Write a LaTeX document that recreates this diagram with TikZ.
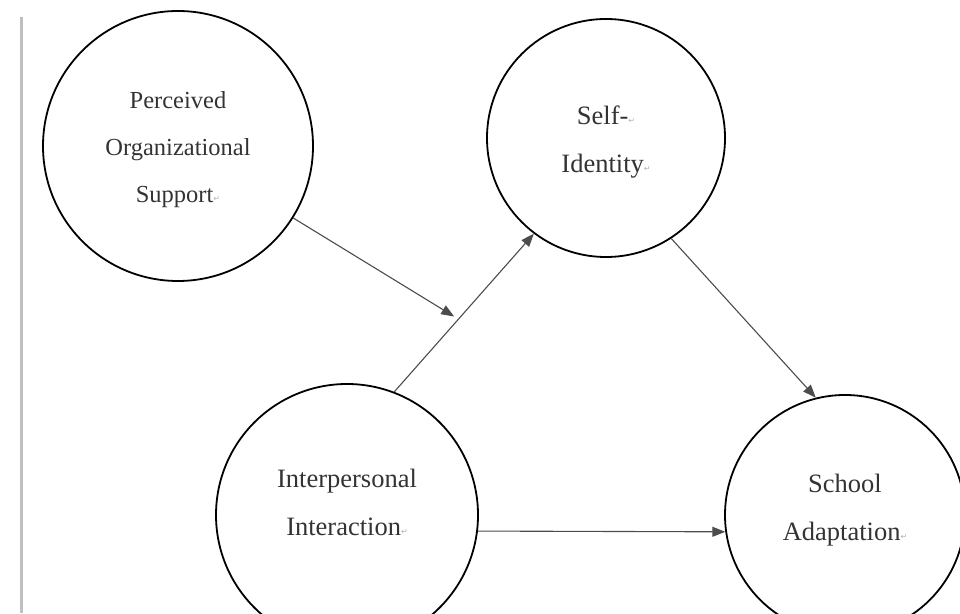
\documentclass[tikz,border=0pt]{standalone}
\usepackage{fontspec}
\setmainfont{Liberation Serif}
\newfontfamily\symfont{DejaVu Sans}
\usepackage{tikz}
\usetikzlibrary{arrows.meta,positioning}
\usepackage{xcolor}

\newcommand{\pmark}{{\symfont\fontsize{8}{8}\selectfont\color{black!30}\raisebox{1pt}{↵}}}

\begin{document}
\begin{tikzpicture}[x=1pt,y=1pt,->,>={Triangle[length=13pt,width=10pt]},
                    on grid,semithick]
  \tikzstyle{construct}=[circle,draw=black,line width=1.8pt,inner sep=0pt,
                         align=center,text=black!80,
                         font=\fontsize{26.5}{48}\selectfont]
  \tikzstyle{link}=[draw=black!70,line width=1.1pt]

  \useasboundingbox (0,0) rectangle (960,613);
  \draw[-,black!25,line width=3pt] (21,0) -- (21,596);

  \node[construct,minimum size=270pt,font=\fontsize{24.5}{47}\selectfont,
        text height=119pt]
                    (pos) at (178,467) {Perceived\\Organizational\\Support\pmark};
  \node[construct,minimum size=262pt,text depth=25pt]
                    (ii) [below right=369pt and 169pt of pos]
                    {Interpersonal\\Interaction\pmark};
  \node[construct,minimum size=238pt,text height=74pt]
                    (si) [above right=377pt and 259pt of ii]
                    {Self-\pmark\\Identity\pmark};
  \node[construct,minimum size=240pt,text depth=15pt] (sa) [right=498pt of ii]
                    {School\\Adaptation\pmark};

  \path (ii.69) edge[link] node[pos=0.46,coordinate] (mod) {} (si.233)
        (si.-57) edge[link] (sa.104)
        (ii.-7.4) edge[link] (sa.188);
  \path (pos.-32) edge[link,shorten >=5pt] (mod);
\end{tikzpicture}
\end{document}
